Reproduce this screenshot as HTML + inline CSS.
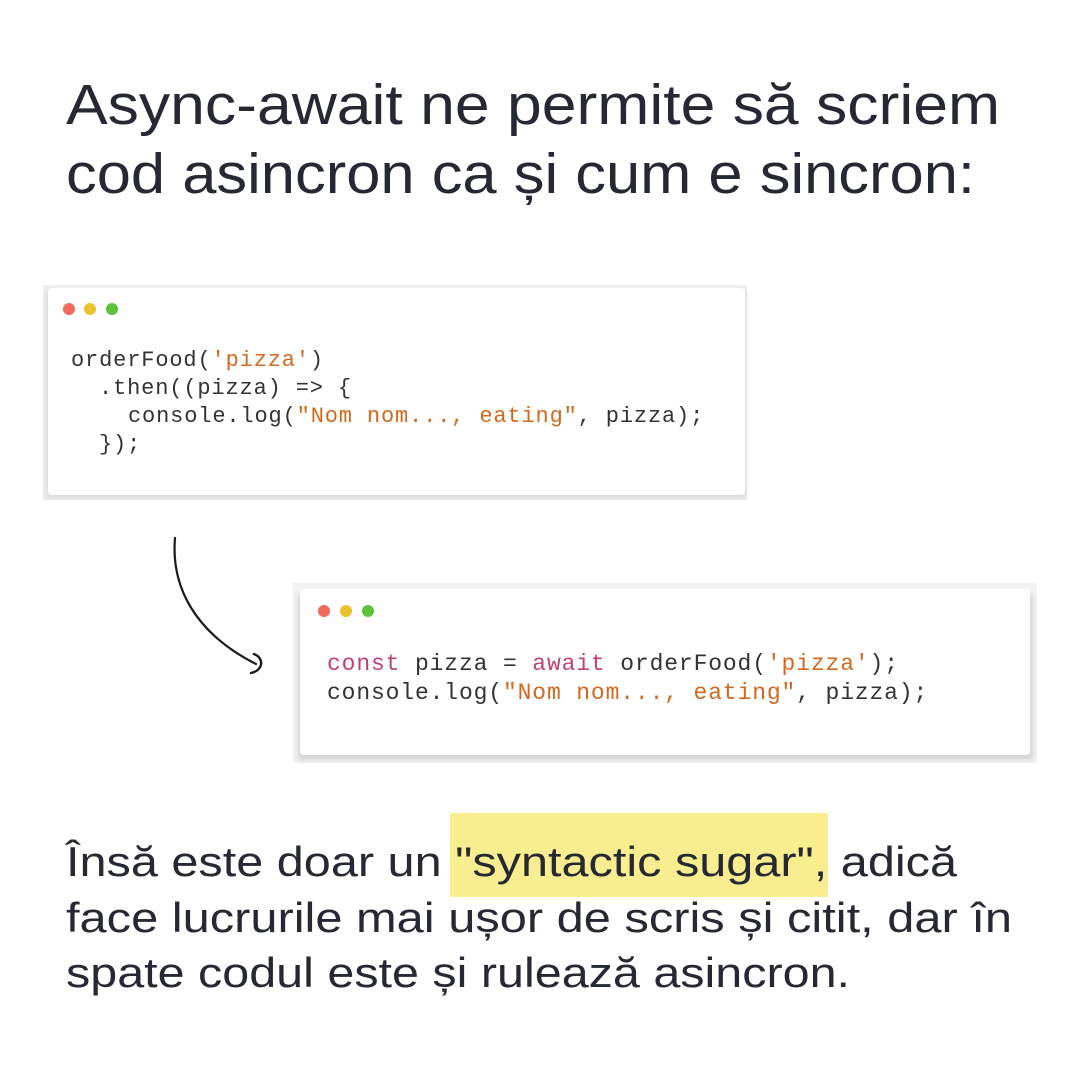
<!DOCTYPE html>
<html><head><meta charset="utf-8"><style>
html,body{margin:0;padding:0;background:#fff;}
svg{display:block;}
</style></head><body>
<svg width="1080" height="1080" viewBox="0 0 1080 1080" xmlns="http://www.w3.org/2000/svg">
<defs>
<filter id="sh" x="-5%" y="-10%" width="110%" height="125%">
<feGaussianBlur stdDeviation="2.5"/>
</filter>
</defs>
<rect width="1080" height="1080" fill="#fff"/>
<g font-family="'Liberation Sans', sans-serif" fill="#262833" font-size="57">
<text x="66" y="124" textLength="934" lengthAdjust="spacingAndGlyphs">Async-await ne permite să scriem</text>
<text x="66" y="193" textLength="909" lengthAdjust="spacingAndGlyphs">cod asincron ca și cum e sincron:</text>
</g>
<!-- card 1 -->
<rect x="43" y="285" width="704" height="215" fill="#eeeeee"/>
<rect x="46" y="291" width="700" height="207" fill="#dcdcdc" filter="url(#sh)"/>
<rect x="48" y="288" width="697" height="207" rx="4" fill="#fff"/>
<circle cx="69" cy="309" r="6" fill="#f06a5e"/>
<circle cx="90" cy="309" r="6" fill="#e8c22f"/>
<circle cx="112" cy="309" r="6" fill="#5cc23b"/>
<g font-family="'Liberation Mono', monospace" font-size="22" letter-spacing="0.85" fill="#333">
<text x="71" y="366">orderFood(<tspan fill="#d2691e">'pizza'</tspan>)</text>
<text x="99" y="394">.then((pizza) =&gt; {</text>
<text x="128" y="422">console.log(<tspan fill="#d2691e">"Nom nom..., eating"</tspan>, pizza);</text>
<text x="99" y="450">});</text>
</g>
<!-- arrow -->
<path d="M175 538 C171 585 193 632 256 664" fill="none" stroke="#1a1a1a" stroke-width="2.2" stroke-linecap="round"/>
<path d="M254 654 C264 658 264 670 251 673" fill="none" stroke="#1a1a1a" stroke-width="2.4" stroke-linecap="round"/>
<!-- card 2 -->
<rect x="293" y="583" width="744" height="180" fill="#f2f2f2"/>
<rect x="298" y="594" width="735" height="166" fill="#d6d6d6" filter="url(#sh)"/>
<rect x="300" y="589" width="730" height="166" rx="4" fill="#fff"/>
<circle cx="324" cy="611" r="6" fill="#f06a5e"/>
<circle cx="346" cy="611" r="6" fill="#e8c22f"/>
<circle cx="368" cy="611" r="6" fill="#5cc23b"/>
<g font-family="'Liberation Mono', monospace" font-size="23" letter-spacing="0.86" fill="#333">
<text x="327" y="670"><tspan fill="#c2407a">const</tspan> pizza = <tspan fill="#c2407a">await</tspan> orderFood(<tspan fill="#d2691e">'pizza'</tspan>);</text>
<text x="327" y="699">console.log(<tspan fill="#d2691e">"Nom nom..., eating"</tspan>, pizza);</text>
</g>
<!-- bottom -->
<rect x="450" y="813" width="378" height="84" fill="#f9ee8f"/>
<g font-family="'Liberation Sans', sans-serif" fill="#262833" font-size="42">
<text x="66" y="876" textLength="891" lengthAdjust="spacingAndGlyphs">Însă este doar un "syntactic sugar", adică</text>
<text x="66" y="932" textLength="946" lengthAdjust="spacingAndGlyphs">face lucrurile mai ușor de scris și citit, dar în</text>
<text x="66" y="987" textLength="784" lengthAdjust="spacingAndGlyphs">spate codul este și rulează asincron.</text>
</g>
</svg>
</body></html>
